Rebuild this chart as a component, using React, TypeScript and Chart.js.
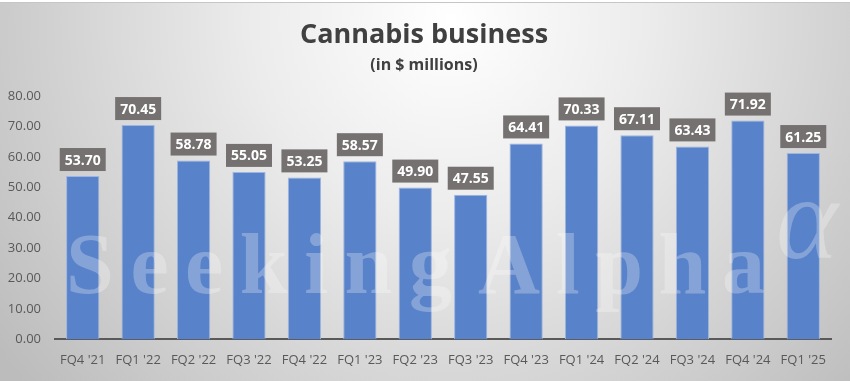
import React, { useEffect, useRef } from "react";
import { Chart, registerables } from "chart.js";

Chart.register(...registerables);

const categories = ["FQ4 '21", "FQ1 '22", "FQ2 '22", "FQ3 '22", "FQ4 '22", "FQ1 '23", "FQ2 '23", "FQ3 '23", "FQ4 '23", "FQ1 '24", "FQ2 '24", "FQ3 '24", "FQ4 '24", "FQ1 '25"];
const revenue = [53.70, 70.45, 58.78, 55.05, 53.25, 58.57, 49.90, 47.55, 64.41, 70.33, 67.11, 63.43, 71.92, 61.25];
const titleText = "Cannabis business";
const subtitleText = "(in $ millions)";
const watermarkWords = ["Seeking", "Alpha"];
const watermarkSymbol = "α";

const W = 850;
const H = 381;

const backgroundPlugin = {
  id: "bgPlugin",
  beforeDraw(chart: any) {
    const ctx = chart.ctx;
    ctx.save();
    const g = ctx.createRadialGradient(450, 20, 0, 450, 20, 560);
    g.addColorStop(0, "#ffffff");
    g.addColorStop(0.35, "#ececec");
    g.addColorStop(1, "#bcbcbc");
    ctx.fillStyle = g;
    ctx.fillRect(0, 0, W, H);
    ctx.fillStyle = "#ffffff";
    ctx.fillRect(0, 0, W, 2);
    ctx.fillStyle = "#c6c6c6";
    ctx.fillRect(0, 2, W, 1);
    ctx.fillStyle = "#404040";
    ctx.textAlign = "center";
    ctx.textBaseline = "middle";
    ctx.font = "bold 27px 'Open Sans', sans-serif";
    ctx.fillText(titleText, 424, 35);
    ctx.font = "bold 16px 'Open Sans', sans-serif";
    ctx.fillText(subtitleText, 424, 65);
    ctx.restore();
  },
};

function drawSpacedWord(ctx: any, word: string, x0: number, x1: number, y: number) {
  const chars = Array.from(word);
  const widths = chars.map((c) => ctx.measureText(c).width);
  const total = widths.reduce((a, b) => a + b, 0);
  const spacing = (x1 - x0 - total) / (chars.length - 1);
  let x = x0;
  chars.forEach((c, i) => {
    ctx.fillText(c, x, y);
    x += widths[i] + spacing;
  });
}

const watermarkPlugin = {
  id: "wmPlugin",
  afterDatasetsDraw(chart: any) {
    const ctx = chart.ctx;
    ctx.save();
    ctx.fillStyle = "rgba(255,255,255,0.27)";
    ctx.textBaseline = "alphabetic";
    ctx.textAlign = "left";
    ctx.font = "bold 86px 'Liberation Serif', serif";
    drawSpacedWord(ctx, watermarkWords[0], 66, 452, 293);
    drawSpacedWord(ctx, watermarkWords[1], 478, 765, 293);
    ctx.font = "italic 118px 'Liberation Serif', serif";
    ctx.fillText(watermarkSymbol, 776, 258);
    ctx.restore();

    const meta = chart.getDatasetMeta(0);
    ctx.save();
    ctx.font = "bold 14px 'Open Sans', sans-serif";
    ctx.textAlign = "center";
    ctx.textBaseline = "middle";
    meta.data.forEach((bar: any, i: number) => {
      const label = revenue[i].toFixed(2);
      const bw = 46;
      const bh = 23;
      const cx = bar.x;
      const bottom = bar.y - 5;
      ctx.fillStyle = "#767171";
      ctx.fillRect(cx - bw / 2, bottom - bh, bw, bh);
      ctx.fillStyle = "#ffffff";
      ctx.fillText(label, cx, bottom - bh / 2 + 1);
    });
    ctx.restore();
  },
};

export default function App() {
  const ref = useRef<HTMLCanvasElement>(null);
  useEffect(() => {
    document.body.style.margin = "0";
    const chart = new Chart(ref.current as HTMLCanvasElement, {
      type: "bar",
      data: {
        labels: categories,
        datasets: [
          {
            data: revenue,
            backgroundColor: "#5882C9",
            borderColor: "#9DB5E0",
            borderWidth: 1,
            barPercentage: 0.6,
            categoryPercentage: 1,
          },
        ],
      },
      options: {
        responsive: false,
        animation: false,
        devicePixelRatio: 1,
        layout: { padding: { top: 96, right: 19, bottom: 0, left: 0 } },
        plugins: { legend: { display: false }, title: { display: false }, tooltip: { enabled: false } },
        scales: {
          y: {
            min: 0,
            max: 80,
            ticks: {
              stepSize: 10,
              padding: 14,
              color: "#595959",
              font: { size: 13, family: "'Open Sans', sans-serif" },
              callback: (v: any) => Number(v).toFixed(2),
            },
            grid: { display: false, drawTicks: false },
            border: { display: false },
            afterFit: (s: any) => {
              s.width = 55;
            },
          },
          x: {
            ticks: {
              color: "#595959",
              padding: 13,
              maxRotation: 0,
              autoSkip: false,
              font: { size: 13, family: "'Open Sans', sans-serif" },
            },
            grid: { display: false, drawTicks: false },
            border: { display: true, color: "#595959", width: 2 },
          },
        },
      },
      plugins: [backgroundPlugin, watermarkPlugin],
    });
    return () => chart.destroy();
  }, []);
  return <canvas ref={ref} width={W} height={H} style={{ display: "block" }} />;
}
